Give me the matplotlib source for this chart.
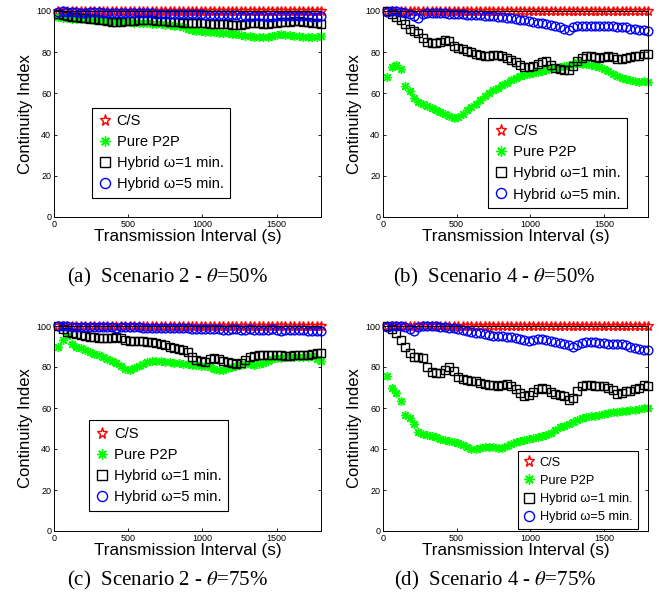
import numpy as np
import matplotlib
matplotlib.use('Agg')
import matplotlib.pyplot as plt

plt.rcParams['font.family'] = ['Liberation Sans', 'DejaVu Sans']
plt.rcParams['mathtext.fontset'] = 'stix'

# transmission interval (s), one sample every 30 s
interval_s = np.arange(30, 1801, 30)

series_names = ['C/S', 'Pure P2P', 'Hybrid \u03c9=1 min.', 'Hybrid \u03c9=5 min.']
captions = ['(a)  Scenario 2 - $\\theta$=50%', '(b)  Scenario 4 - $\\theta$=50%',
            '(c)  Scenario 2 - $\\theta$=75%', '(d)  Scenario 4 - $\\theta$=75%']

# C/S stays at full continuity in every scenario
cs_all = [100, 100, 100, 100, 100, 100, 100, 100, 100, 100,
          100, 100, 100, 100, 100, 100, 100, 100, 100, 100,
          100, 100, 100, 100, 100, 100, 100, 100, 100, 100,
          100, 100, 100, 100, 100, 100, 100, 100, 100, 100,
          100, 100, 100, 100, 100, 100, 100, 100, 100, 100,
          100, 100, 100, 100, 100, 100, 100, 100, 100, 100]

# (a) scenario 2, theta = 50%
a_p2p = [97, 96.5, 96.5, 96, 96, 96, 96, 96, 95.5, 95.5,
         95.5, 95, 95, 95, 94.5, 94.5, 94.5, 94, 94, 94,
         94, 93.5, 93.5, 93.5, 93, 93, 92.5, 92.5, 92, 91.5,
         91, 90.5, 90.5, 90, 90, 90, 89.5, 89.5, 89.5, 89,
         89, 88.5, 88, 88, 87.5, 87.5, 87.5, 87.5, 88, 88.5,
         89, 88.5, 88.5, 88, 88, 87.5, 87.5, 87.5, 87.5, 88]
a_hyb1 = [98.5, 98, 97.5, 97, 97, 96.5, 96.5, 96, 96, 95.5,
          95.5, 95, 94.5, 94.5, 94.5, 95, 95, 95, 95.5, 95.5,
          95.5, 95.5, 95, 95, 95, 94.5, 94.5, 94.5, 94, 94,
          94, 94, 94, 94, 93.5, 93.5, 93.5, 93.5, 93.5, 93,
          93, 93, 93.5, 94, 94, 94, 93.5, 93.5, 94, 94,
          94.5, 94.5, 94.5, 95, 95, 94.5, 94.5, 94, 94, 93.5]
a_hyb5 = [99.5, 100, 99.5, 99.5, 99.5, 99, 99, 99.5, 99.5, 99.5,
          99, 99, 99, 99, 99, 99, 99, 99, 99, 99,
          99, 99, 98.5, 98.5, 98.5, 98.5, 98.5, 98.5, 98.5, 98.5,
          98.5, 98.5, 98.5, 98, 98, 98, 98, 98, 98, 98,
          98, 97.5, 97.5, 97, 97.5, 97.5, 97.5, 97, 97, 97.5,
          97.5, 97.5, 97.5, 97.5, 97.5, 97.5, 97.5, 97, 97, 97.5]

# (b) scenario 4, theta = 50%
b_p2p = [68, 73, 74, 72, 63.5, 61, 58, 56, 55, 54,
         53, 52, 51, 50, 49, 48, 48.5, 50, 52, 53.5,
         55, 57, 58.5, 60, 61.5, 62.5, 64, 65, 66.5, 67.5,
         68.5, 69, 69.5, 70, 70.5, 71, 71.5, 72, 72.5, 73,
         73.5, 74, 74.5, 75, 74.5, 74.5, 74, 73.5, 73, 72,
         71, 69.5, 68.5, 67.5, 67, 66.5, 66, 65.5, 66, 65.5]
b_hyb1 = [100, 98.5, 97, 95.5, 93.5, 91.5, 90.5, 89.5, 87, 85,
          84.5, 84.5, 85, 86, 85.5, 83, 82, 81.5, 80.5, 80,
          79, 78.5, 78, 78, 78.5, 78.5, 78, 77, 76, 75,
          74, 73, 73, 73.5, 74.5, 75, 75.5, 74, 72.5, 72,
          71.5, 71.5, 73.5, 75.5, 77, 78, 78, 77.5, 77, 77.5,
          78, 77.5, 76.5, 76.5, 77, 77.5, 78, 78, 79, 79]
b_hyb5 = [99.5, 100, 100, 99.5, 99, 98.5, 97.5, 96.5, 98.5, 99,
          99, 99, 99, 99, 98.5, 98.5, 98.5, 98.5, 98, 98,
          98, 98, 97.5, 97.5, 97.5, 97, 97, 96.5, 96.5, 96,
          95.5, 95.5, 95, 94.5, 94, 94, 93.5, 93, 92.5, 92,
          91.5, 91, 92, 92.5, 92.5, 92.5, 92.5, 92.5, 92.5, 92.5,
          92.5, 92.5, 92, 92, 92, 91.5, 91.5, 91, 91, 90.5]

# (c) scenario 2, theta = 75%
c_p2p = [90, 93, 95, 91, 90, 89.5, 88.5, 87.5, 86.5, 86,
         85, 84, 83, 82, 80.5, 79, 78.5, 79.5, 80.5, 81.5,
         82.5, 83, 83, 83, 82.5, 82.5, 82, 82, 81.5, 81.5,
         81, 81, 80.5, 80.5, 80, 79, 78.5, 78.5, 79.5, 80,
         80.5, 81, 81.5, 81.5, 81, 81.5, 82, 83, 84, 84.5,
         84.5, 85, 85, 85, 85, 85, 85, 85.5, 84, 83]
c_hyb1 = [100, 98.5, 97, 96.5, 96, 95.5, 95, 94.5, 94.5, 94,
          94, 94, 94, 94.5, 94, 93, 92.5, 92.5, 92.5, 92.5,
          92, 92, 91.5, 91, 90.5, 90, 89.5, 89, 88.5, 87.5,
          85, 83.5, 83, 82.5, 84, 84.5, 84, 83, 82.5, 82,
          81.5, 82, 83.5, 85, 85.5, 86, 86, 86, 86, 86,
          86, 85.5, 85.5, 86, 86, 86, 86, 86.5, 87, 87]
c_hyb5 = [100, 100, 100, 99.5, 99.5, 99.5, 99.5, 99.5, 99.5, 99.5,
          99.5, 99.5, 99.5, 99, 99.5, 99.5, 99.5, 99.5, 99.5, 99,
          99, 99, 99, 99, 99, 99, 99, 99, 99, 99,
          98.5, 98.5, 98.5, 98.5, 98.5, 98.5, 98.5, 98, 98, 98.5,
          98.5, 98, 98, 98.5, 98, 98, 98, 98, 98.5, 98,
          97.5, 98, 98, 98, 98, 98, 97.5, 97.5, 97.5, 97.5]

# (d) scenario 4, theta = 75%
d_p2p = [75.5, 70, 67.5, 63.5, 56.5, 55, 52, 48.5, 47.5, 47,
         46.5, 46, 45, 44.5, 44, 43.5, 43, 42, 41, 40,
         40, 40.5, 41, 41, 41, 40.5, 40.5, 41.5, 42.5, 43.5,
         44, 44.5, 45, 45.5, 46, 46.5, 47, 48, 49.5, 50.5,
         51, 52, 53, 54, 55, 55.5, 56, 56, 56.5, 57,
         57.5, 58, 58, 58.5, 58.5, 59, 59, 59.5, 60, 60]
d_hyb1 = [100, 98.5, 96.5, 93, 90, 87, 85, 85, 84.5, 80,
          77.5, 77, 77, 78.5, 80, 78, 75, 74, 73.5, 73,
          73, 72, 71.5, 71, 71, 70.5, 71, 71.5, 70.5, 69.5,
          67.5, 66, 66.5, 68, 69.5, 70, 69.5, 68, 67, 66.5,
          66, 64, 65, 68.5, 70.5, 71, 71, 70.5, 70.5, 70.5,
          70, 69, 67, 67.5, 68.5, 68.5, 69.5, 70, 71, 70.5]
d_hyb5 = [99.5, 100, 100, 100, 99.5, 98.5, 97.5, 99.5, 100, 100,
          100, 100, 99.5, 99.5, 99, 99, 98.5, 98, 97.5, 97,
          96.5, 96.5, 96, 95.5, 95, 95, 95, 94.5, 94.5, 94,
          93.5, 93, 92.5, 93, 93.5, 93.5, 93, 92.5, 92, 91.5,
          91, 90.5, 90, 90.5, 91.5, 92, 92, 92, 91.5, 91.5,
          91, 91, 91, 91, 90.5, 90, 89.5, 89, 88.5, 88.5]

panels = [
    (cs_all, a_p2p, a_hyb1, a_hyb5),
    (cs_all, b_p2p, b_hyb1, b_hyb5),
    (cs_all, c_p2p, c_hyb1, c_hyb5),
    (cs_all, d_p2p, d_hyb1, d_hyb5),
]

# marker styles in MATLAB look: open star, asterisk, open square, open circle
styles = [
    dict(marker='*', color='red', markerfacecolor='none', markersize=7),
    dict(marker=(8, 2, 0), color='lime', markersize=6.5),
    dict(marker='s', color='black', markerfacecolor='none', markersize=6),
    dict(marker='o', color='blue', markerfacecolor='none', markersize=6.3),
]

# axes rectangles in figure fractions (from 662x606 px layout)
W, H = 662.0, 606.0
boxes = [
    [54 / W, 1 - 217 / H, 267 / W, 206 / H],
    [383 / W, 1 - 217 / H, 265 / W, 206 / H],
    [54 / W, 1 - 531 / H, 267 / W, 205 / H],
    [383 / W, 1 - 531 / H, 265 / W, 205 / H],
]
legend_anchor = [(0.142, 0.093), (0.396, 0.043), (0.131, 0.098), (0.509, 0.01)]
legend_size = [10.5, 10.6, 10.6, 9.2]
caption_xy = [(168 / W, 1 - 282 / H), (494 / W, 1 - 282 / H),
              (168 / W, 1 - 585 / H), (495 / W, 1 - 585 / H)]

fig = plt.figure(figsize=(6.62, 6.06), dpi=100)

for k in range(4):
    ax = fig.add_axes(boxes[k])
    for vals, name, st in zip(panels[k], series_names, styles):
        ax.plot(interval_s, vals, linestyle='none', markeredgewidth=1.0,
                clip_on=False, label=name, **st)

    ax.set_xlim(0, 1800)
    ax.set_ylim(0, 100)
    ax.set_xticks([0, 500, 1000, 1500])
    ax.set_yticks([0, 20, 40, 60, 80, 100])
    ax.tick_params(direction='in', length=2.5, width=0.6, labelsize=6.5,
                   top=True, right=True, pad=2)
    for sp in ax.spines.values():
        sp.set_linewidth(0.7)
    ax.set_xlabel('Transmission Interval (s)', fontsize=12.3, labelpad=0)
    ax.set_ylabel('Continuity Index', fontsize=12, labelpad=2)

    leg = ax.legend(loc='lower left', bbox_to_anchor=legend_anchor[k],
                    numpoints=1, fontsize=legend_size[k], fancybox=False,
                    framealpha=1, edgecolor='black', handlelength=0.9,
                    handletextpad=0.35, labelspacing=0.48, borderpad=0.45,
                    borderaxespad=0, markerscale=1.15)
    leg.get_frame().set_linewidth(0.8)

    fig.text(caption_xy[k][0], caption_xy[k][1], captions[k], ha='center',
             va='baseline', fontsize=15, family=['Liberation Serif', 'DejaVu Serif'])

plt.savefig('out.png', dpi=100)
